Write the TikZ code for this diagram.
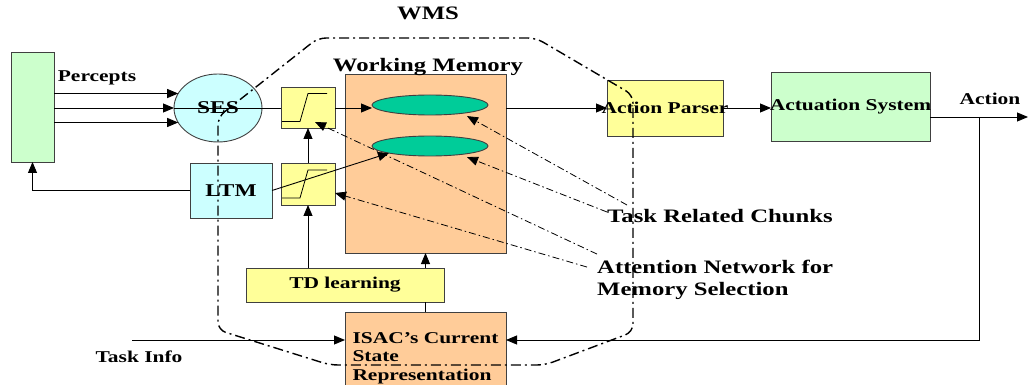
\documentclass[tikz,border=0pt]{standalone}
\usepackage{fontspec}
\setmainfont[FakeStretch=1.3]{Liberation Serif}
\usetikzlibrary{positioning,shapes.geometric,arrows.meta,calc}
\definecolor{boxgreen}{HTML}{CCFFCC}
\definecolor{boxcyan}{HTML}{CCFFFF}
\definecolor{boxyellow}{HTML}{FFFF99}
\definecolor{boxorange}{HTML}{FFCC99}
\definecolor{chunkgreen}{HTML}{00CC99}
\newcommand{\smallfont}{\bfseries\fontsize{16.5}{18.5}\selectfont}
\newcommand{\bigfont}{\bfseries\fontsize{19}{22}\selectfont}
\tikzstyle{bordered} = [align=center,draw=black!75,line width=0.9pt,outer sep=0,inner sep=1,font=\smallfont]
\tikzstyle{lbl} = [inner sep=0,font=\smallfont]
\tikzstyle{biglbl} = [inner sep=0,font=\bigfont]
\tikzstyle{arrow} = [line width=0.9pt,-{Triangle[length=11pt,width=9pt]}]
\tikzstyle{wmsline} = [line width=1.4pt,dash pattern=on 10pt off 4pt on 2pt off 4pt]
\tikzstyle{pointer} = [line width=0.8pt,dash pattern=on 7pt off 3pt on 1.5pt off 3pt]

\begin{document}
\begin{tikzpicture}[x=1pt,y=-1pt]
    \useasboundingbox (0,0) rectangle (1029,385);
    \node [bordered,fill=boxgreen,minimum width=43,minimum height=110] (sensor) at (32.5,107) {};
    \node [bordered,ellipse,fill=boxcyan,minimum width=88,minimum height=68,font=\bfseries\fontsize{18}{20}\selectfont] (ses) at (218,108) {SES};
    \node [bordered,fill=boxyellow,minimum width=54,minimum height=41] (gate1) at (308,107.5) {};
    \node [bordered,fill=boxyellow,minimum width=54,minimum height=42] (gate2) at (308,184) {};
    \node [bordered,fill=boxcyan,minimum width=82,minimum height=55,font=\bfseries\fontsize{18}{20}\selectfont] (ltm) at (231,190.5) {LTM};
    \node [bordered,fill=boxorange,minimum width=161,minimum height=179] (wm) at (425.5,163.5) {};
    \node [bordered,ellipse,fill=chunkgreen,minimum width=116,minimum height=20] (chunk1) at (430,105) {};
    \node [bordered,ellipse,fill=chunkgreen,minimum width=116,minimum height=20] (chunk2) at (430,146) {};
    \node [bordered,fill=boxyellow,minimum width=198,minimum height=34] (td) at (345,285) {TD learning};
    \node [bordered,fill=boxorange,minimum width=161,minimum height=92,align=left] (isac) at (425.5,358) {ISAC’s Current\\State\\Representation};
    \node [bordered,fill=boxyellow,minimum width=116,minimum height=56] (parser) at (665,108) {\makebox[0pt]{Action Parser}};
    \node [bordered,fill=boxgreen,minimum width=159,minimum height=69] (act) at (850.5,106.5) {\makebox[0pt]{Actuation System}};
    \node [biglbl] (wms) at (428,13) {WMS};
    \node [biglbl] (wmtitle) at (428,67) {Working Memory};
    \node [lbl] (percepts) at (97,78) {Percepts};
    \node [lbl] (action) at (990,99) {Action};
    \node [lbl] (taskinfo) at (139,357) {Task Info};
    \node [biglbl,anchor=west] (chunks) at (607,216) {Task Related Chunks};
    \node [biglbl,anchor=west,align=left] (attn) at (597,280) {Attention Network for\\Memory Selection};
    \coordinate (out) at (1028,117);
    \coordinate (tap) at (979,117);
    \coordinate (taskin) at (132,340);
    % gate symbols
    \foreach \g in {gate1,gate2}
      \draw [line width=0.8pt] ([shift={(-26,14)}]\g.center) -- ++(18,0) -- ++(8,-28) -- ++(19,0);
    % signal flow
    \draw [arrow] (sensor.east |- ses.160) -- (ses.160);
    \draw [arrow] (sensor.east |- ses.west) -- (ses.west);
    \draw [arrow] (sensor.east |- ses.200) -- (ses.200);
    \draw [line width=0.9pt] (ses.west) -- (gate1.west |- ses.west);
    \draw [arrow] (gate1.east |- ses.west) -- (chunk1.west |- ses.west);
    \draw [arrow] (gate2) -- (gate1);
    \draw [arrow] (td.north -| gate2) -- (gate2);
    \draw [line width=0.9pt] (isac.north) -- (isac.north |- td.south);
    \draw [arrow] (isac.north |- td.north) -- (wm.south);
    \draw [arrow] (ltm.west) -| (sensor.south);
    \draw [arrow] (ltm.east) -- (chunk2.south west);
    \draw [arrow] (wm.east |- parser.west) -- (parser.west);
    \draw [arrow] (parser.east) -- (parser.east -| act.west);
    \draw [arrow] (act.east |- out) -- (out);
    \draw [arrow] (tap) |- (isac.east |- taskin);
    \draw [arrow] (taskin) -- (isac.west |- taskin);
    % attention pointers
    \draw [pointer,arrow,line width=0.8pt] ($(chunks.west)+(20,-11)$) -- ($(chunk1.south east)+(-4,4)$);
    \draw [pointer,arrow,line width=0.8pt] ($(chunks.west)+(0,-4)$) -- ($(chunk2.south east)+(-4,4)$);
    \draw [pointer,arrow,line width=0.8pt] ($(attn.north west)+(0,-6)$) -- ($(gate1.south east)+(-20,-6)$);
    \draw [pointer,arrow,line width=0.8pt] ($(attn.north west)+(-10,7)$) -- ($(gate2.east)+(0,9)$);
    % WMS boundary
    \draw [wmsline,rounded corners=8] (218,117) -- (318,38) -- (536,38) -- (633,95) -- (633,332) -- (545,365) -- (330,365) -- (218,330) -- cycle;
\end{tikzpicture}
\end{document}
